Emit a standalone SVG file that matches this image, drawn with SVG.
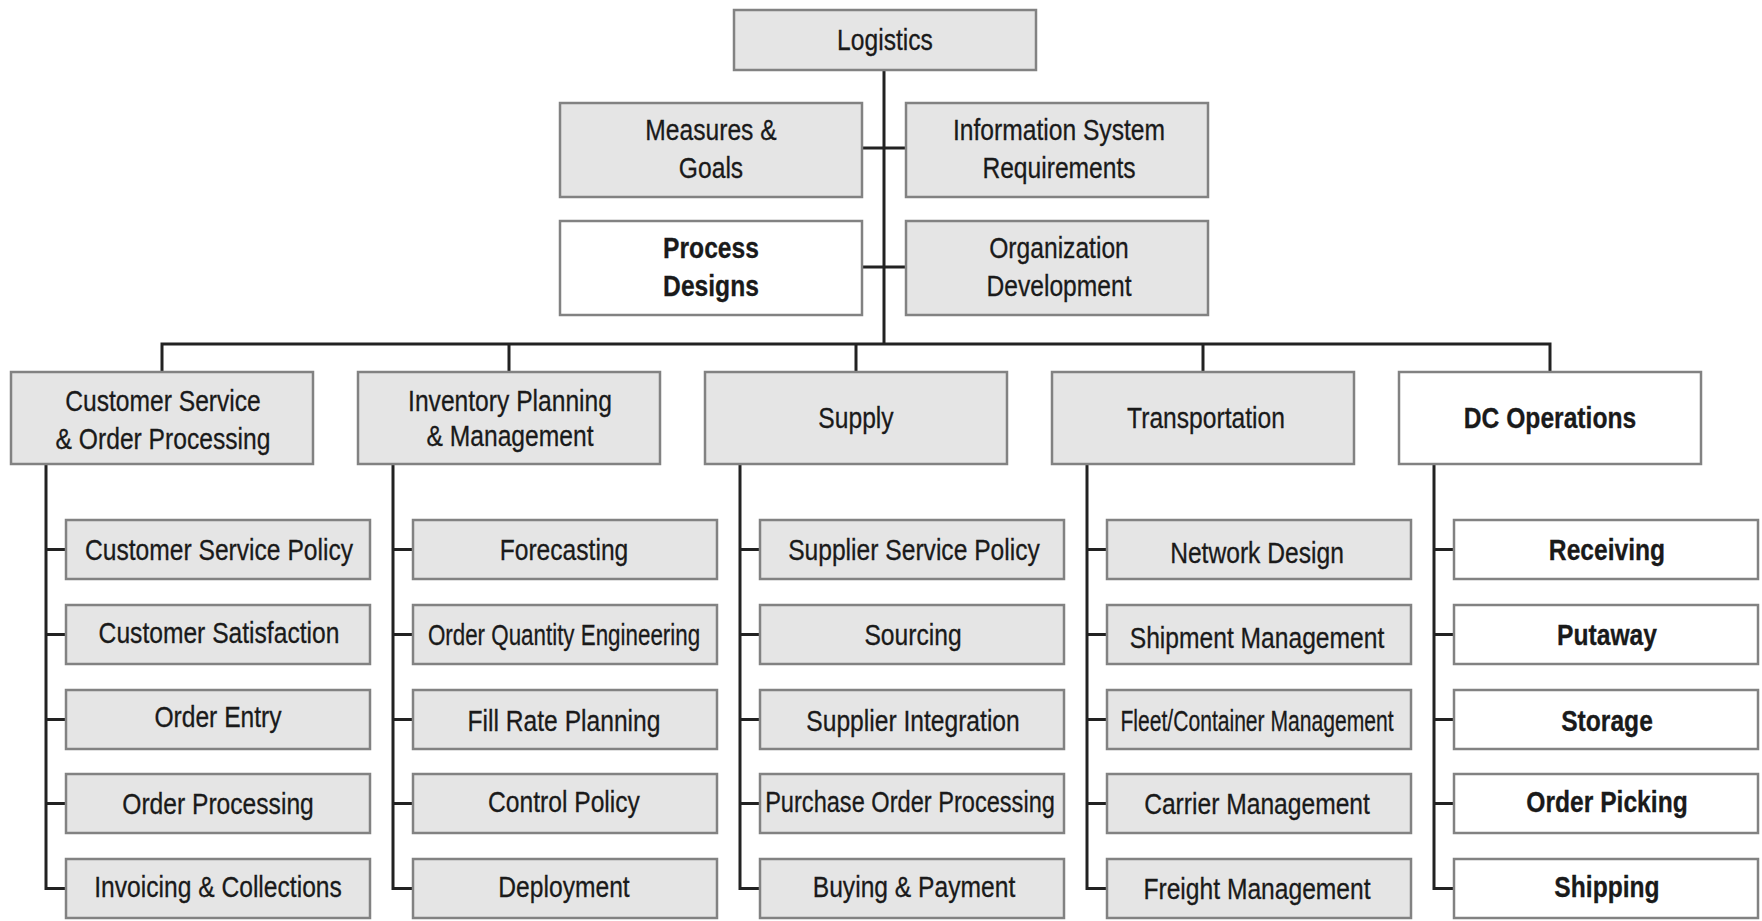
<svg xmlns="http://www.w3.org/2000/svg" width="1762" height="921" viewBox="0 0 1762 921">
<style>
.b{fill:#e5e5e5;stroke:#828282;stroke-width:2.5}
.w{fill:#ffffff;stroke:#828282;stroke-width:2.5}
text{font-family:"Liberation Sans",Arial,sans-serif;font-size:29.5px;fill:#1a1a1a;stroke:#1a1a1a;stroke-width:0.3;text-anchor:middle}
.bd{font-weight:bold}
.c{fill:none;stroke:#222;stroke-width:3}
</style>
<rect width="1762" height="921" fill="#fff"/>
<g id="connectors" class="c">
<path d="M884 70V344M862 148H906M862 267H906"/>
<path d="M162 372V344H1550V372M509 344V372M856 344V372M1203 344V372"/>
<path d="M46 464V888.5H66M46 549.5H66M46 634.5H66M46 719.5H66M46 803.5H66"/>
<path d="M393 464V888.5H413M393 549.5H413M393 634.5H413M393 719.5H413M393 803.5H413"/>
<path d="M740 464V888.5H760M740 549.5H760M740 634.5H760M740 719.5H760M740 803.5H760"/>
<path d="M1087 464V888.5H1107M1087 549.5H1107M1087 634.5H1107M1087 719.5H1107M1087 803.5H1107"/>
<path d="M1434 464V888.5H1454M1434 549.5H1454M1434 634.5H1454M1434 719.5H1454M1434 803.5H1454"/>
</g>
<g id="logistics"><rect class="b" x="734" y="10" width="302" height="60"/><text transform="translate(885,50) scale(0.835,1)">Logistics</text></g>
<g id="measures"><rect class="b" x="560" y="103" width="302" height="94"/><text transform="translate(711,140) scale(0.835,1)">Measures &amp;</text><text transform="translate(711,178) scale(0.835,1)">Goals</text></g>
<g id="infosys"><rect class="b" x="906" y="103" width="302" height="94"/><text transform="translate(1059,140) scale(0.835,1)">Information System</text><text transform="translate(1059,178) scale(0.835,1)">Requirements</text></g>
<g id="process"><rect class="w" x="560" y="221" width="302" height="94"/><text class="bd" transform="translate(711,258) scale(0.835,1)">Process</text><text class="bd" transform="translate(711,296) scale(0.835,1)">Designs</text></g>
<g id="orgdev"><rect class="b" x="906" y="221" width="302" height="94"/><text transform="translate(1059,258) scale(0.835,1)">Organization</text><text transform="translate(1059,296) scale(0.835,1)">Development</text></g>

<g id="cs"><rect class="b" x="11" y="372" width="302" height="92"/><text transform="translate(163,411) scale(0.835,1)">Customer Service</text><text transform="translate(163,449) scale(0.835,1)">&amp; Order Processing</text></g>
<g id="inv"><rect class="b" x="358" y="372" width="302" height="92"/><text transform="translate(510,411) scale(0.835,1)">Inventory Planning</text><text transform="translate(510,446) scale(0.835,1)">&amp; Management</text></g>
<g id="supply"><rect class="b" x="705" y="372" width="302" height="92"/><text transform="translate(856,428) scale(0.835,1)">Supply</text></g>
<g id="transport"><rect class="b" x="1052" y="372" width="302" height="92"/><text transform="translate(1206,428) scale(0.835,1)">Transportation</text></g>
<g id="dcops"><rect class="w" x="1399" y="372" width="302" height="92"/><text class="bd" transform="translate(1550,428) scale(0.835,1)">DC Operations</text></g>

<g id="cs1"><rect class="b" x="66" y="520" width="304" height="59"/><text transform="translate(219,559.5) scale(0.835,1)">Customer Service Policy</text></g>
<g id="cs2"><rect class="b" x="66" y="605" width="304" height="59"/><text transform="translate(219,642.5) scale(0.835,1)">Customer Satisfaction</text></g>
<g id="cs3"><rect class="b" x="66" y="690" width="304" height="59"/><text transform="translate(218,726.5) scale(0.835,1)">Order Entry</text></g>
<g id="cs4"><rect class="b" x="66" y="774" width="304" height="59"/><text transform="translate(218,813.5) scale(0.835,1)">Order Processing</text></g>
<g id="cs5"><rect class="b" x="66" y="859" width="304" height="59"/><text transform="translate(218,896.5) scale(0.835,1)">Invoicing &amp; Collections</text></g>

<g id="inv1"><rect class="b" x="413" y="520" width="304" height="59"/><text transform="translate(564,559.5) scale(0.835,1)">Forecasting</text></g>
<g id="inv2"><rect class="b" x="413" y="605" width="304" height="59"/><text transform="translate(564,644.5) scale(0.835,1)" textLength="326" lengthAdjust="spacingAndGlyphs">Order Quantity Engineering</text></g>
<g id="inv3"><rect class="b" x="413" y="690" width="304" height="59"/><text transform="translate(564,731) scale(0.835,1)">Fill Rate Planning</text></g>
<g id="inv4"><rect class="b" x="413" y="774" width="304" height="59"/><text transform="translate(564,811.5) scale(0.835,1)">Control Policy</text></g>
<g id="inv5"><rect class="b" x="413" y="859" width="304" height="59"/><text transform="translate(564,896.5) scale(0.835,1)">Deployment</text></g>

<g id="sup1"><rect class="b" x="760" y="520" width="304" height="59"/><text transform="translate(914,559.5) scale(0.835,1)">Supplier Service Policy</text></g>
<g id="sup2"><rect class="b" x="760" y="605" width="304" height="59"/><text transform="translate(913,644.5) scale(0.835,1)">Sourcing</text></g>
<g id="sup3"><rect class="b" x="760" y="690" width="304" height="59"/><text transform="translate(913,731) scale(0.835,1)">Supplier Integration</text></g>
<g id="sup4"><rect class="b" x="760" y="774" width="304" height="59"/><text transform="translate(910,811.5) scale(0.835,1)" textLength="347" lengthAdjust="spacingAndGlyphs">Purchase Order Processing</text></g>
<g id="sup5"><rect class="b" x="760" y="859" width="304" height="59"/><text transform="translate(914,896.5) scale(0.835,1)">Buying &amp; Payment</text></g>

<g id="tr1"><rect class="b" x="1107" y="520" width="304" height="59"/><text transform="translate(1257,563) scale(0.835,1)">Network Design</text></g>
<g id="tr2"><rect class="b" x="1107" y="605" width="304" height="59"/><text transform="translate(1257,648) scale(0.835,1)">Shipment Management</text></g>
<g id="tr3"><rect class="b" x="1107" y="690" width="304" height="59"/><text transform="translate(1257,731) scale(0.835,1)" textLength="327" lengthAdjust="spacingAndGlyphs">Fleet/Container Management</text></g>
<g id="tr4"><rect class="b" x="1107" y="774" width="304" height="59"/><text transform="translate(1257,814) scale(0.835,1)">Carrier Management</text></g>
<g id="tr5"><rect class="b" x="1107" y="859" width="304" height="59"/><text transform="translate(1257,899) scale(0.835,1)">Freight Management</text></g>

<g id="dc1"><rect class="w" x="1454" y="520" width="304" height="59"/><text class="bd" transform="translate(1607,559.5) scale(0.835,1)">Receiving</text></g>
<g id="dc2"><rect class="w" x="1454" y="605" width="304" height="59"/><text class="bd" transform="translate(1607,644.5) scale(0.835,1)">Putaway</text></g>
<g id="dc3"><rect class="w" x="1454" y="690" width="304" height="59"/><text class="bd" transform="translate(1607,731) scale(0.835,1)">Storage</text></g>
<g id="dc4"><rect class="w" x="1454" y="774" width="304" height="59"/><text class="bd" transform="translate(1607,811.5) scale(0.835,1)">Order Picking</text></g>
<g id="dc5"><rect class="w" x="1454" y="859" width="304" height="59"/><text class="bd" transform="translate(1607,896.5) scale(0.835,1)">Shipping</text></g>
</svg>
